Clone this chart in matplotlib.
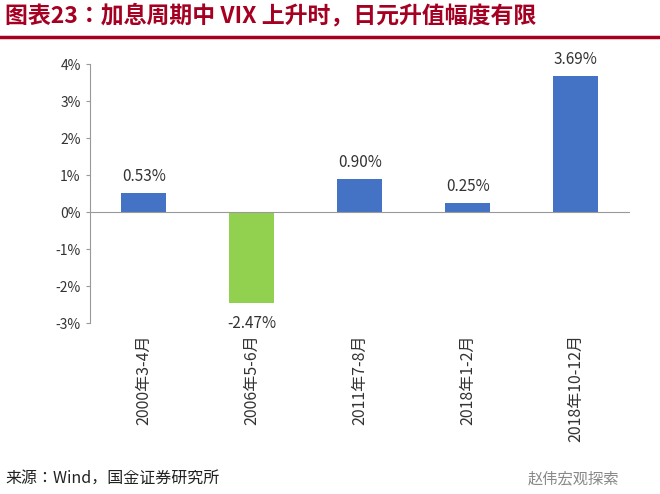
import matplotlib
matplotlib.use("Agg")
import matplotlib.pyplot as plt
import matplotlib.font_manager as fm

names = {f.name for f in fm.fontManager.ttflist}
cjk = [n for n in ['Noto Sans CJK SC', 'Noto Sans CJK JP', 'Noto Sans CJK TC', 'Noto Sans CJK KR'] if n in names]
plt.rcParams['font.family'] = cjk + ['DejaVu Sans']

# 数据
periods = ["2000年3-4月", "2006年5-6月", "2011年7-8月", "2018年1-2月", "2018年10-12月"]
values = [0.53, -2.47, 0.90, 0.25, 3.69]
bar_colors = ["#4472C4", "#92D050", "#4472C4", "#4472C4", "#4472C4"]

fig = plt.figure(figsize=(6.6, 4.94), dpi=100)
ax = fig.add_axes([0.136, 0.346, 0.818, 0.524])

x = range(len(periods))
ax.bar(x, values, width=0.42, color=bar_colors, zorder=2)
for i, v in enumerate(values):
    if v >= 0:
        ax.text(i, v + 0.2, f"{v:.2f}%", ha='center', va='bottom', fontsize=11, color='#333333')
    else:
        ax.text(i, v - 0.3, f"{v:.2f}%", ha='center', va='top', fontsize=11, color='#333333')

ax.set_ylim(-3, 4)
ax.set_xlim(-0.5, len(periods) - 0.5)
ax.set_yticks(range(-3, 5))
ax.set_yticklabels([f"{t}%" for t in range(-3, 5)], fontsize=10, color='#333333')
ax.set_xticks(list(x))
ax.set_xticklabels(periods, rotation=90, fontsize=11.5, color='#333333')
ax.tick_params(axis='x', length=0, pad=8)
ax.tick_params(axis='y', length=3, color='#999999')
ax.axhline(0, color='#999999', lw=0.8)
for s in ['top', 'right', 'bottom']:
    ax.spines[s].set_visible(False)
ax.spines['left'].set_color('#999999')

# 标题
fig.text(0.008, 0.968, "图表23：加息周期中 VIX 上升时，日元升值幅度有限", fontsize=16.5,
         fontweight='bold', style='italic', color='#A50021', va='center')
fig.add_artist(plt.Line2D([0, 1], [0.925, 0.925], color='#A50021', lw=2.5))

# 来源
fig.text(0.008, 0.03, "来源：Wind，国金证券研究所", fontsize=11.5, color='#222222', va='center')
fig.text(0.80, 0.03, "赵伟宏观探索", fontsize=11, color='#888888', va='center')

fig.savefig("out.png", dpi=100, facecolor='white')
